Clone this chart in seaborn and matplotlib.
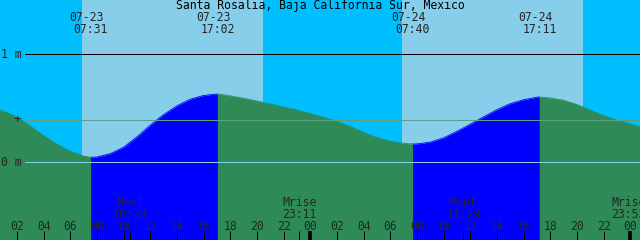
import matplotlib
matplotlib.use("Agg")
import matplotlib.pyplot as plt
import seaborn as sns
import numpy as np
import pandas as pd

# ---------------- data (hours since 07-23 00:00, level in metres) ----------------
hours = [0, 1, 2, 3, 4, 5, 6, 7, 7.517, 8, 9, 10, 11, 12, 13, 14, 15, 16, 17, 17.033,
         18, 19, 20, 21, 22, 23, 24, 25, 26, 27, 28, 29, 30, 31, 31.667, 32, 33, 34,
         35, 36, 37, 38, 39, 40, 41, 41.183, 42, 43, 44, 45, 46, 47, 48, 49]
levels = [0.510, 0.472, 0.418, 0.334, 0.247, 0.167, 0.101, 0.058, 0.046, 0.049, 0.080,
          0.140, 0.235, 0.343, 0.441, 0.522, 0.583, 0.617, 0.631, 0.631,
          0.614, 0.591, 0.566, 0.539, 0.512, 0.483, 0.451, 0.416, 0.377, 0.330, 0.275,
          0.228, 0.195, 0.176, 0.169, 0.170, 0.186, 0.226,
          0.286, 0.352, 0.420, 0.486, 0.542, 0.578, 0.601, 0.603, 0.594, 0.573, 0.533,
          0.482, 0.431, 0.390, 0.355, 0.319]

# tide extremes: hour, date label, time label
extreme_hours = [7.517, 17.033, 31.667, 41.183]
extreme_dates = ["07-23", "07-23", "07-24", "07-24"]
extreme_times = ["07:31", "17:02", "07:40", "17:11"]
extreme_kind = ["low", "high", "low", "high"]

# daylight windows (hours)
day_start = [6.875, 30.875]
day_end = [20.45, 44.45]

# moon events
moon_hours = [10.467, 23.183, 35.483, 47.883]
moon_names = ["Mset", "Mrise", "Mset", "Mrise"]
moon_times = ["10:28", "23:11", "11:29", "23:53"]

hour_ticks = list(range(2, 49, 2))
hour_labels = [f"{h % 24:02d}" for h in hour_ticks]

title = "Santa Rosalia, Baja California Sur, Mexico"
mean_level = 0.39

# ---------------- geometry helpers ----------------
W, H = 640, 240
PX_PER_HR = 13.333
X0 = -9.667          # pixel x of hour 0
Y0M, PX_PER_M = 162.3, 108.3   # pixel y of 0 m, px per metre

def px2m(y):
    return (Y0M - y) / PX_PER_M

def fy(y):            # pixel y -> axes fraction
    return 1 - y / H

sns.set_theme(style="white")
plt.rcParams["font.family"] = ["DejaVu Sans Mono", "DejaVu Sans"]

NIGHT = "#00BFFF"
fig = plt.figure(figsize=(6.4, 2.4), dpi=100, facecolor=NIGHT)
ax = fig.add_axes([0, 0, 1, 1])
ax.set_xlim((0 - X0) / PX_PER_HR, (W - X0) / PX_PER_HR)
ax.set_ylim(px2m(H), px2m(0))
ax.set_facecolor(NIGHT)
for sp in ax.spines.values():
    sp.set_visible(False)
ax.set_xticks([])
ax.set_yticks([])
ax.grid(False)

for s, e in zip(day_start, day_end):
    ax.axvspan(s, e, color="#87CEEB", lw=0, zorder=1)

df = pd.DataFrame({"t": hours, "lvl": levels})
bounds = [min(hours)] + extreme_hours + [max(hours)]
bottom = px2m(H + 5)
for i in range(len(bounds) - 1):
    a, b = bounds[i], bounds[i + 1]
    seg = df[(df.t >= a) & (df.t <= b)]
    rising = i > 0 and extreme_kind[i - 1] == "low"
    col = "#0000FF" if rising else "#2E8B57"
    ax.fill_between(seg.t, seg.lvl, bottom, color=col, lw=0, zorder=2)
    sns.lineplot(x=seg.t.values, y=seg.lvl.values, color=col, lw=0.6, ax=ax, zorder=2)

lw1 = 0.72
ax.axhline(1.0, xmin=25 / W, xmax=1, color="black", lw=lw1, zorder=3)
ax.axhline(0.0, xmin=25 / W, xmax=1, color="#87CEEB", lw=lw1, zorder=3)
ax.axhline(mean_level, xmin=25 / W, xmax=1, color="#5A9F87", lw=lw1, zorder=3)

fs = 8.3
xt = ax.get_xaxis_transform()
ax.text(0.5, fy(9), title, transform=ax.transAxes, ha="center", va="baseline", fontsize=fs, color="black", zorder=5)

for h, d, t in zip(extreme_hours, extreme_dates, extreme_times):
    ax.text(h - 3.7 / PX_PER_HR, fy(21), d, transform=xt, ha="center", va="baseline", fontsize=fs, zorder=5)
    ax.text(h, fy(33.3), t, transform=xt, ha="center", va="baseline", fontsize=fs, zorder=5)

for h, n, t in zip(moon_hours, moon_names, moon_times):
    ax.text(h, fy(206.3), n, transform=xt, ha="center", va="baseline", fontsize=fs, zorder=5)
    ax.text(h, fy(217.8), t, transform=xt, ha="center", va="baseline", fontsize=fs, zorder=5)

for h, lab in zip(hour_ticks, hour_labels):
    ax.text(h, fy(229.5), lab, transform=xt, ha="center", va="baseline", fontsize=fs, zorder=5)
    lw = 2.6 if h % 24 == 0 else lw1
    ax.vlines(h, fy(240), fy(231), transform=xt, color="black", lw=lw, zorder=5)
for h in moon_hours:
    ax.vlines(h, fy(240), fy(231), transform=xt, color="black", lw=lw1, zorder=5)

at = ax.transAxes
ax.text(1 / W, fy(57.5), "1 m", transform=at, ha="left", va="baseline", fontsize=fs, zorder=5)
ax.text(1 / W, fy(165.8), "0 m", transform=at, ha="left", va="baseline", fontsize=fs, zorder=5)
ax.text(17.5 / W, fy(120), "+", transform=at, ha="center", va="center", fontsize=fs + 1, zorder=5)

fig.savefig("out.png", dpi=100, facecolor=NIGHT)
